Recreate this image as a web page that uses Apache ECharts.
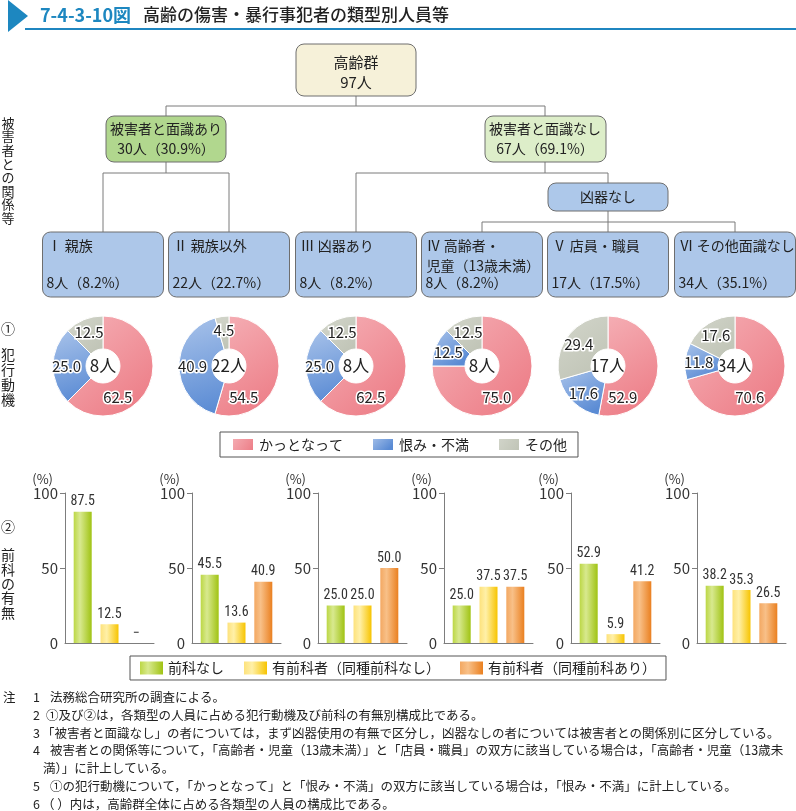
<!DOCTYPE html>
<html><head><meta charset="utf-8">
<script src="https://cdn.jsdelivr.net/npm/echarts@6/dist/echarts.min.js"></script>
<style>html,body{margin:0;padding:0;background:#fff}#c{width:796px;height:811px}</style>
</head><body><div id="c"></div>
<script>
// ---- data ----
const titleNo = '7-4-3-10図';
const titleText = '高齢の傷害・暴行事犯者の類型別人員等';
const totalLabel = '高齢群';
const totalCount = 97;
const groupNames = ['被害者と面識あり', '被害者と面識なし'];
const groupCounts = [30, 67];
const groupShares = [30.9, 69.1];
const noWeaponLabel = '凶器なし';
const typeLabels = ['Ⅰ 親族', 'Ⅱ 親族以外', 'Ⅲ 凶器あり', 'Ⅳ 高齢者・\n児童（13歳未満）', 'Ⅴ 店員・職員', 'Ⅵ その他面識なし'];
const typeCounts = [8, 22, 8, 8, 17, 34];
const typeShares = [8.2, 22.7, 8.2, 8.2, 17.5, 35.1];
const motiveNames = ['かっとなって', '恨み・不満', 'その他'];
const motiveAngry = [62.5, 54.5, 62.5, 75.0, 52.9, 70.6];
const motiveGrudge = [25.0, 40.9, 25.0, 12.5, 17.6, 11.8];
const motiveOther = [12.5, 4.5, 12.5, 12.5, 29.4, 17.6];
const priorNames = ['前科なし', '有前科者（同種前科なし）', '有前科者（同種前科あり）'];
const priorNone = [87.5, 45.5, 25.0, 25.0, 52.9, 38.2];
const priorOther = [12.5, 13.6, 25.0, 37.5, 5.9, 35.3];
const priorSame = [0, 40.9, 50.0, 37.5, 41.2, 26.5];
const yTicks = [0, 50, 100];
const sideLabels = ['被害者との関係等', '①', '犯行動機', '②', '前科の有無'];
const notes = [
  ['注', '1', '法務総合研究所の調査による。', 50],
  ['', '2', '①及び②は，各類型の人員に占める犯行動機及び前科の有無別構成比である。', 46],
  ['', '3', '「被害者と面識なし」の者については，まず凶器使用の有無で区分し，凶器なしの者については被害者との関係別に区分している。', 42],
  ['', '4', '被害者との関係等について，「高齢者・児童（13歳未満）」と「店員・職員」の双方に該当している場合は，「高齢者・児童（13歳未', 50],
  ['', '', '満）」に計上している。', 43],
  ['', '5', '①の犯行動機について，「かっとなって」と「恨み・不満」の双方に該当している場合は，「恨み・不満」に計上している。', 50],
  ['', '6', '（ ）内は，高齢群全体に占める各類型の人員の構成比である。', 42]
];

// ---- layout / style ----
const FONT = '"Noto Sans CJK JP", "Noto Sans", sans-serif';
const NARROW = '"Liberation Sans Narrow", "Roboto Condensed", "DejaVu Sans Condensed", sans-serif';
const colX = [103, 229, 356, 482, 608, 735];
const boxW = 121;
const pieY = 366;
const LG = echarts.graphic.LinearGradient;
const pieColors = [
  new LG(0, 0, 1, 1, [{offset: 0, color: '#f5b0b6'}, {offset: 1, color: '#ec7882'}]),
  new LG(0, 0, 0.6, 1, [{offset: 0, color: '#a9c3ea'}, {offset: 1, color: '#5a8bd4'}]),
  new LG(0, 0, 1, 1, [{offset: 0, color: '#d3d6cb'}, {offset: 1, color: '#bec2b4'}])
];
const barColors = [
  new LG(0, 0, 1, 0, [{offset: 0, color: '#bcd745'}, {offset: 0.35, color: '#d8e98f'}, {offset: 1, color: '#a0c313'}]),
  new LG(0, 0, 1, 0, [{offset: 0, color: '#fde27c'}, {offset: 0.35, color: '#fff0a8'}, {offset: 1, color: '#f7c400'}]),
  new LG(0, 0, 1, 0, [{offset: 0, color: '#f3a862'}, {offset: 0.35, color: '#f8c088'}, {offset: 1, color: '#ea8020'}])
];
const gridLeft = [65, 192, 318, 444, 571, 697];

function rect(x, y, w, h, fill) {
  return {type: 'rect', shape: {x, y, width: w, height: h, r: 8}, style: {fill, stroke: '#6e6e6e', lineWidth: 1}};
}
function ln(x1, y1, x2, y2, color, w) {
  return {type: 'line', shape: {x1, y1, x2, y2}, style: {stroke: color || '#7a7a7a', lineWidth: w || 1}};
}
function txt(x, y, text, o) {
  o = o || {};
  const align = o.align || 'left';
  const va = o.va || 'middle';
  return {type: 'text', x, y, style: {text, fill: o.color || '#222', font: o.font || ('14px ' + FONT),
    align, textAlign: align, verticalAlign: va, textVerticalAlign: va, lineHeight: o.lh || 20}};
}

const g = [];
// title
g.push({type: 'polygon', shape: {points: [[8, 0], [28, 16], [8, 32]]}, style: {fill: '#1d87c0'}});
g.push(ln(25, 29, 796, 29, '#1f86c0', 2));
g.push(txt(40, 15, titleNo, {font: 'bold 18px ' + FONT, color: '#1d87c0'}));
g.push(txt(143, 15, titleText, {font: '500 17px ' + FONT}));
// tree
g.push(ln(356, 96, 356, 106), ln(166, 106, 545, 106), ln(166, 106, 166, 116), ln(545, 106, 545, 116));
g.push(ln(166, 162, 166, 173), ln(103, 173, 229, 173), ln(103, 173, 103, 232), ln(229, 173, 229, 232));
g.push(ln(545, 162, 545, 173), ln(356, 173, 608, 173), ln(356, 173, 356, 232), ln(608, 173, 608, 183));
g.push(ln(608, 211, 608, 222), ln(482, 222, 735, 222));
[3, 4, 5].forEach(i => g.push(ln(colX[i], 222, colX[i], 232)));
g.push(rect(296, 44, 120, 52, '#f6f1d9'));
g.push(txt(356, 72, totalLabel + '\n' + totalCount + '人', {align: 'center', font: '15px ' + FONT, lh: 20}));
g.push(rect(106, 116, 120, 46, '#b1d78e'));
g.push(txt(166, 139, groupNames[0] + '\n' + groupCounts[0] + '人（' + groupShares[0].toFixed(1) + '%）', {align: 'center', lh: 20}));
g.push(rect(485, 116, 121, 46, '#ddeec9'));
g.push(txt(545, 139, groupNames[1] + '\n' + groupCounts[1] + '人（' + groupShares[1].toFixed(1) + '%）', {align: 'center', lh: 20}));
g.push(rect(548, 183, 120, 28, '#adc8ea'));
g.push(txt(608, 197, noWeaponLabel, {align: 'center'}));
typeLabels.forEach((t, i) => {
  const x = colX[i] - boxW / 2;
  g.push(rect(x, 232, boxW, 65, '#adc7e9'));
  g.push(txt(x + 5, 236, t, {va: 'top', lh: 20}));
  g.push(txt(x + 4, 283, typeCounts[i] + '人（' + typeShares[i].toFixed(1) + '%）'));
});
// side labels
const vert = s => s.split('').join('\n');
g.push(txt(8, 116, vert(sideLabels[0]), {align: 'center', va: 'top', lh: 13.6, font: '13px ' + FONT}));
g.push(txt(8, 329, sideLabels[1], {align: 'center', font: '14px ' + FONT}));
g.push(txt(8, 347, vert(sideLabels[2]), {align: 'center', va: 'top', lh: 15, font: '14px ' + FONT}));
g.push(txt(8, 527, sideLabels[3], {align: 'center', font: '14px ' + FONT}));
g.push(txt(8, 548, vert(sideLabels[4]), {align: 'center', va: 'top', lh: 14.3, font: '14px ' + FONT}));
// pie centre counts
typeCounts.forEach((c, i) => g.push(txt(colX[i], pieY, c + '人', {align: 'center', font: '17px ' + FONT})));
// notes
notes.forEach((n, k) => {
  const y = 697 + k * 17.9;
  const f = '12.5px ' + FONT;
  if (n[0]) g.push(txt(3, y, n[0], {font: f}));
  if (n[1]) g.push(txt(33, y, n[1], {font: f}));
  g.push(txt(n[3], y, n[2], {font: f}));
});

// pies
const series = [];
typeCounts.forEach((c, i) => {
  const vals = [motiveAngry[i], motiveGrudge[i], motiveOther[i]];
  series.push({
    type: 'pie', center: [colX[i], pieY], radius: [17, 50], startAngle: 90, clockwise: true,
    avoidLabelOverlap: false, silent: true,
    itemStyle: {borderColor: '#fff', borderWidth: 1},
    label: {show: true, position: 'inside', formatter: p => p.value.toFixed(1), fontFamily: FONT, fontSize: 15,
      color: '#222', textBorderColor: '#fff', textBorderWidth: 3},
    labelLine: {show: false},
    labelLayout: function (p) {
      if (p.dataIndex === 0) {
        const a = 155 * Math.PI / 180;
        return {x: colX[i] + 35 * Math.sin(a), y: pieY - 35 * Math.cos(a)};
      }
      return {};
    },
    data: vals.map((v, j) => ({name: motiveNames[j], value: v, itemStyle: {color: pieColors[j]}}))
  });
});

// bars
const grids = [], xAxes = [], yAxes = [];
const priorVals = [priorNone, priorOther, priorSame];
gridLeft.forEach((L, gi) => {
  grids.push({left: L, top: 493, width: 89, height: 150});
  xAxes.push({gridIndex: gi, type: 'value', min: -0.66, max: 2.66,
    axisLine: {show: true, onZero: false, lineStyle: {color: '#7d7d7d'}},
    axisTick: {show: false}, axisLabel: {show: false}, splitLine: {show: false}});
  yAxes.push({gridIndex: gi, type: 'value', min: 0, max: 100, interval: 50,
    axisLine: {show: true, onZero: false, lineStyle: {color: '#7d7d7d'}},
    axisTick: {show: true, length: 5, lineStyle: {color: '#7d7d7d'}, customValues: [50, 100]},
    splitLine: {show: false},
    axisLabel: {fontFamily: FONT, fontSize: 15, color: '#333', margin: 7, customValues: yTicks},
    name: '(%)', nameLocation: 'end', nameGap: 7,
    nameTextStyle: {fontFamily: FONT, fontSize: 13, color: '#333', align: 'right', padding: [0, 12, 0, 0]}});
  priorNames.forEach((nm, j) => {
    series.push({
      type: 'bar', name: nm, xAxisIndex: gi, yAxisIndex: gi, barWidth: 18, barGap: '-100%', silent: true,
      itemStyle: {color: barColors[j]},
      label: {show: true, position: 'top', distance: 3, fontFamily: NARROW, fontSize: 14, color: '#333',
        formatter: p => (p.value[1] === 0 ? '−' : p.value[1].toFixed(1))},
      data: [[j, priorVals[j][gi]]]
    });
  });
});

const chart = echarts.init(document.getElementById('c'), null, {renderer: 'canvas'});
chart.setOption({
  animation: false,
  textStyle: {fontFamily: FONT},
  legend: [
    {data: motiveNames, left: 220, top: 432, orient: 'horizontal', itemWidth: 22, itemHeight: 13, itemGap: 28,
      padding: [5, 11], borderColor: '#555', borderWidth: 1, selectedMode: false, icon: 'rect',
      textStyle: {fontFamily: FONT, fontSize: 14, color: '#222'}},
    {data: priorNames, left: 130, top: 656, orient: 'horizontal', itemWidth: 23, itemHeight: 13, itemGap: 20,
      padding: [5, 10], borderColor: '#555', borderWidth: 1, selectedMode: false, icon: 'rect',
      textStyle: {fontFamily: FONT, fontSize: 14, color: '#222'}}
  ],
  grid: grids, xAxis: xAxes, yAxis: yAxes,
  series,
  graphic: {elements: g}
});
</script></body></html>
